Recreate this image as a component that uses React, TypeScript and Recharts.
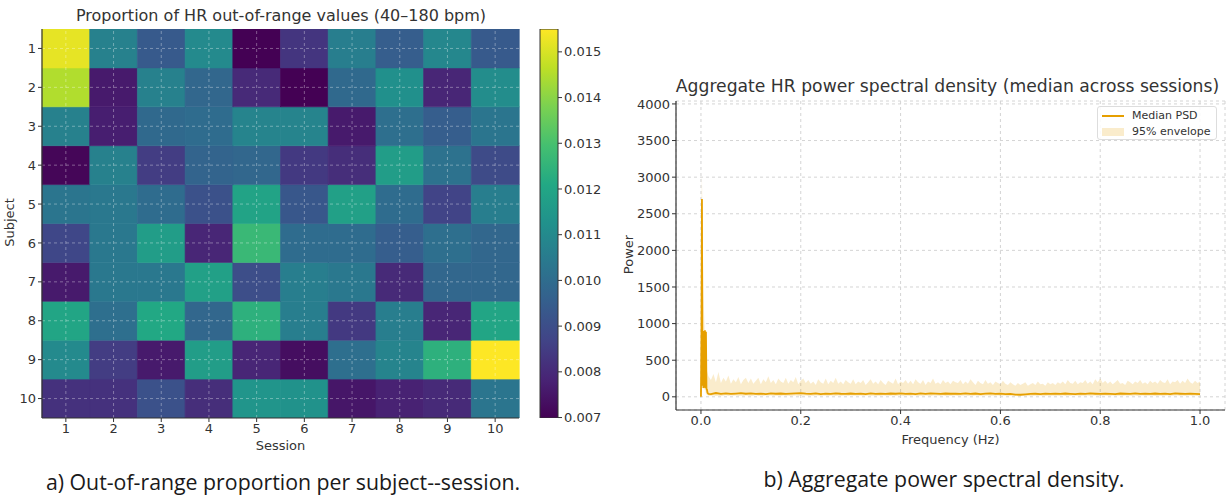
import React from "react"
import {
  Bar,
  BarChart,
  Cell,
  ComposedChart,
  Area,
  Line,
  XAxis,
  YAxis,
  CartesianGrid,
  ReferenceLine,
} from "recharts"

// heatmap: proportion of out-of-range HR, rows = subject 1..10, cols = session 1..10
const sessions = [1, 2, 3, 4, 5, 6, 7, 8, 9, 10]
const subjects = [1, 2, 3, 4, 5, 6, 7, 8, 9, 10]
const outOfRange = [
  [0.0152, 0.0107, 0.0094, 0.0110, 0.0070, 0.0083, 0.0106, 0.0095, 0.0109, 0.0094],
  [0.0145, 0.0076, 0.0107, 0.0098, 0.0080, 0.0070, 0.0099, 0.0112, 0.0079, 0.0111],
  [0.0107, 0.0077, 0.0099, 0.0100, 0.0108, 0.0108, 0.0076, 0.0101, 0.0095, 0.0103],
  [0.0071, 0.0107, 0.0085, 0.0097, 0.0098, 0.0084, 0.0081, 0.0117, 0.0102, 0.0089],
  [0.0103, 0.0104, 0.0100, 0.0091, 0.0119, 0.0093, 0.0118, 0.0100, 0.0087, 0.0106],
  [0.0088, 0.0104, 0.0117, 0.0079, 0.0127, 0.0100, 0.0100, 0.0095, 0.0101, 0.0098],
  [0.0076, 0.0104, 0.0104, 0.0118, 0.0090, 0.0106, 0.0104, 0.0080, 0.0098, 0.0098],
  [0.0120, 0.0101, 0.0121, 0.0098, 0.0124, 0.0106, 0.0084, 0.0106, 0.0079, 0.0120],
  [0.0110, 0.0085, 0.0076, 0.0117, 0.0079, 0.0073, 0.0101, 0.0108, 0.0124, 0.0155],
  [0.0082, 0.0082, 0.0091, 0.0081, 0.0114, 0.0113, 0.0075, 0.0078, 0.0080, 0.0103],
]
const cbTicks = [0.007, 0.008, 0.009, 0.01, 0.011, 0.012, 0.013, 0.014, 0.015]
const cbMin = 0.00699
const cbMax = 0.0155

// PSD median (Hz, power)
const medFreq = [
  0, 0.001, 0.002, 0.003, 0.004, 0.005, 0.006, 0.007, 0.008, 0.009, 0.01, 0.011, 0.012, 0.013, 0.014, 0.015,
  0.02, 0.03, 0.04, 0.05, 0.06, 0.07, 0.08, 0.09, 0.1,
  0.11, 0.12, 0.13, 0.14, 0.15, 0.16, 0.17, 0.18, 0.19, 0.2,
  0.21, 0.22, 0.23, 0.24, 0.25, 0.26, 0.27, 0.28, 0.29, 0.3,
  0.31, 0.32, 0.33, 0.34, 0.35, 0.36, 0.37, 0.38, 0.39, 0.4,
  0.41, 0.42, 0.43, 0.44, 0.45, 0.46, 0.47, 0.48, 0.49, 0.5,
  0.51, 0.52, 0.53, 0.54, 0.55, 0.56, 0.57, 0.58, 0.59, 0.6,
  0.61, 0.62, 0.63, 0.64, 0.65, 0.66, 0.67, 0.68, 0.69, 0.7,
  0.71, 0.72, 0.73, 0.74, 0.75, 0.76, 0.77, 0.78, 0.79, 0.8,
  0.81, 0.82, 0.83, 0.84, 0.85, 0.86, 0.87, 0.88, 0.89, 0.9,
  0.91, 0.92, 0.93, 0.94, 0.95, 0.96, 0.97, 0.98, 0.99, 1.0,
]
const medianPsd = [
  0, 850, 2700, 150, 880, 120, 900, 130, 910, 120, 890, 110, 100, 60, 45, 40,
  38, 52, 41, 47, 39, 44, 50, 42, 46,
  40, 44, 37, 48, 42, 45, 39, 43, 47, 50,
  44, 41, 46, 38, 43, 40, 47, 42, 39, 45,
  41, 44, 38, 46, 40, 43, 39, 45, 42, 47,
  40, 44, 38, 46, 41, 48, 43, 39, 45, 42,
  44, 39, 47, 41, 45, 38, 43, 46, 40, 44,
  37, 41, 30, 28, 33, 39, 42, 38, 44, 40,
  43, 39, 45, 41, 38, 44, 40, 46, 42, 39,
  44, 41, 38, 45, 42, 40, 46, 39, 43, 41,
  45, 40, 43, 38, 46, 42, 39, 44, 41, 37,
]

// PSD 95% envelope (Hz, low, high)
const envFreq = [
  0, 0.001, 0.002, 0.003, 0.004, 0.005, 0.006, 0.007, 0.008, 0.009, 0.01,
  0.015, 0.02, 0.025, 0.03, 0.035, 0.04, 0.045, 0.05, 0.055, 0.06, 0.065, 0.07, 0.075, 0.08, 0.085, 0.09, 0.095, 0.1, 0.105, 0.11,
  0.115, 0.12, 0.125, 0.13, 0.135, 0.14, 0.145, 0.15, 0.155, 0.16, 0.165, 0.17, 0.175, 0.18, 0.185, 0.19, 0.195, 0.2, 0.205, 0.21,
  0.215, 0.22, 0.225, 0.23, 0.235, 0.24, 0.245, 0.25, 0.255, 0.26, 0.265, 0.27, 0.275, 0.28, 0.285, 0.29, 0.295, 0.3, 0.305, 0.31,
  0.315, 0.32, 0.325, 0.33, 0.335, 0.34, 0.345, 0.35, 0.355, 0.36, 0.365, 0.37, 0.375, 0.38, 0.385, 0.39, 0.395, 0.4, 0.405, 0.41,
  0.415, 0.42, 0.425, 0.43, 0.435, 0.44, 0.445, 0.45, 0.455, 0.46, 0.465, 0.47, 0.475, 0.48, 0.485, 0.49, 0.495, 0.5, 0.505, 0.51,
  0.515, 0.52, 0.525, 0.53, 0.535, 0.54, 0.545, 0.55, 0.555, 0.56, 0.565, 0.57, 0.575, 0.58, 0.585, 0.59, 0.595, 0.6, 0.605, 0.61,
  0.615, 0.62, 0.625, 0.63, 0.635, 0.64, 0.645, 0.65, 0.655, 0.66, 0.665, 0.67, 0.675, 0.68, 0.685, 0.69, 0.695, 0.7, 0.705, 0.71,
  0.715, 0.72, 0.725, 0.73, 0.735, 0.74, 0.745, 0.75, 0.755, 0.76, 0.765, 0.77, 0.775, 0.78, 0.785, 0.79, 0.795, 0.8, 0.805, 0.81,
  0.815, 0.82, 0.825, 0.83, 0.835, 0.84, 0.845, 0.85, 0.855, 0.86, 0.865, 0.87, 0.875, 0.88, 0.885, 0.89, 0.895, 0.9, 0.905, 0.91,
  0.915, 0.92, 0.925, 0.93, 0.935, 0.94, 0.945, 0.95, 0.955, 0.96, 0.965, 0.97, 0.975, 0.98, 0.985, 0.99, 0.995, 1.0,
]
const envHigh = [
  0, 2500, 3050, 2400, 1900, 1500, 1200, 1000, 800, 600, 400,
  280, 230, 310, 200, 340, 190, 260, 210, 290, 180, 240, 200, 270, 170, 230, 260, 190, 250, 180, 220,
  260, 170, 240, 200, 280, 190, 230, 170, 250, 210, 190, 260, 180, 230, 200, 270, 170, 220, 250, 190,
  230, 180, 210, 160, 240, 200, 180, 250, 170, 220, 190, 260, 180, 210, 170, 230, 200, 180, 240, 170,
  210, 190, 230, 160, 200, 240, 180, 210, 170, 230, 190, 160, 220, 200, 180, 250, 170, 210, 190, 230,
  180, 220, 170, 240, 200, 180, 230, 160, 210, 190, 250, 180, 200, 170, 230, 190, 210, 170, 220, 200,
  190, 230, 170, 210, 180, 240, 200, 160, 220, 190, 170, 230, 180, 200, 160, 210, 190, 170, 220, 180,
  160, 200, 170, 150, 190, 160, 180, 200, 150, 170, 190, 160, 210, 170, 180, 150, 200, 170, 190, 160,
  200, 180, 210, 170, 230, 190, 180, 220, 170, 200, 190, 230, 180, 210, 170, 240, 200, 250, 190, 220,
  180, 210, 170, 200, 230, 180, 190, 160, 220, 200, 170, 210, 190, 230, 180, 200, 170, 220, 190, 210,
  180, 230, 200, 190, 240, 170, 210, 200, 230, 180, 220, 190, 250, 200, 180, 220, 190, 210,
]
const envLow = [
  0, 120, 200, 110, 130, 100, 120, 90, 110, 80, 40,
  14, 10, 18, 12, 16, 9, 15, 20, 11, 17, 13, 19, 10, 15, 12, 18, 14, 9, 16, 20,
  12, 15, 10, 17, 13, 19, 11, 14, 16, 10, 18, 12, 15, 9, 14, 17, 11, 16, 13, 19,
  10, 15, 12, 18, 14, 11, 16, 13, 9, 17, 15, 12, 19, 10, 14, 16, 11, 18, 13, 15,
  13, 17, 10, 14, 19, 12, 15, 9, 16, 11, 18, 13, 15, 10, 17, 12, 14, 19, 11, 16,
  15, 11, 18, 13, 10, 16, 12, 19, 14, 9, 17, 13, 15, 11, 18, 10, 16, 12, 14, 17,
  11, 16, 13, 19, 10, 15, 12, 17, 14, 9, 16, 13, 18, 11, 15, 12, 19, 10, 14, 16,
  9, 12, 8, 11, 7, 10, 13, 9, 12, 8, 11, 14, 10, 13, 9, 12, 15, 11, 13, 10,
  14, 10, 17, 12, 15, 11, 18, 13, 16, 10, 15, 12, 19, 11, 14, 17, 12, 16, 13, 18,
  15, 12, 18, 11, 14, 16, 10, 17, 13, 15, 12, 19, 10, 14, 18, 11, 16, 13, 15, 12,
  12, 16, 10, 14, 18, 11, 15, 13, 17, 12, 16, 10, 14, 19, 12, 15, 11, 17,
]
const powerTicks = [0, 500, 1000, 1500, 2000, 2500, 3000, 3500, 4000]
const freqTicks = [0, 0.2, 0.4, 0.6, 0.8, 1.0]

const viridisStops = [
  "#440154", "#482475", "#414487", "#355f8d", "#2a788e", "#21918c",
  "#22a884", "#44bf70", "#7ad151", "#bddf26", "#fde725",
]

const hexToRgb = (h: string) => [1, 3, 5].map((i) => parseInt(h.slice(i, i + 2), 16))

const viridis = (v: number) => {
  const t = Math.min(1, Math.max(0, (v - cbMin) / (cbMax - cbMin))) * 10
  const i = Math.min(9, Math.floor(t))
  const f = t - i
  const a = hexToRgb(viridisStops[i])
  const b = hexToRgb(viridisStops[i + 1])
  const c = a.map((x, k) => Math.round(x + (b[k] - x) * f))
  return `rgb(${c[0]},${c[1]},${c[2]})`
}

// one column per session, ten stacked unit cells (subject 10 at the bottom)
const heatRows = sessions.map((s) => {
  const row: Record<string, number> = { session: s }
  subjects.forEach((subj) => (row[`s${subj}`] = 1))
  return row
})

const medRows = medFreq.map((f, i) => ({ f, median: medianPsd[i] }))
const envRows = envFreq.map((f, i) => ({ f, band: [envLow[i], envHigh[i]] }))

const textColor = "#333333"
const font = "DejaVu Sans, sans-serif"
const tickStyle = { fontSize: 13, fill: textColor, fontFamily: font }
const ORANGE = "#E69F00"

function Heatmap() {
  return (
    <BarChart
      width={530}
      height={460}
      data={heatRows}
      margin={{ top: 29, right: 11, bottom: 10, left: 0 }}
      barCategoryGap={0}
      barGap={0}
    >
      <XAxis
        dataKey="session"
        tick={tickStyle}
        tickSize={4}
        tickLine={{ stroke: textColor }}
        axisLine={{ stroke: textColor, strokeWidth: 1.2 }}
        height={32}
        label={{ value: "Session", position: "insideBottom", offset: 0, fontSize: 13, fill: textColor, fontFamily: font }}
      />
      <YAxis
        type="number"
        domain={[0, 10]}
        ticks={[0.5, 1.5, 2.5, 3.5, 4.5, 5.5, 6.5, 7.5, 8.5, 9.5]}
        tickFormatter={(v) => String(10 - Math.floor(v))}
        tick={tickStyle}
        tickSize={4}
        tickLine={{ stroke: textColor }}
        axisLine={{ stroke: textColor, strokeWidth: 1.2 }}
        width={42}
        allowDataOverflow
      />
      {[...subjects].reverse().map((subj) => (
        <Bar key={subj} dataKey={`s${subj}`} stackId="cells" isAnimationActive={false}>
          {sessions.map((s, j) => {
            const c = viridis(outOfRange[subj - 1][j])
            return <Cell key={s} fill={c} stroke={c} strokeWidth={0.6} />
          })}
        </Bar>
      ))}
      {sessions.map((s) => (
        <ReferenceLine key={`vx${s}`} x={s} stroke="#ffffff" strokeOpacity={0.35} strokeDasharray="3 3" />
      ))}
      {subjects.map((subj) => (
        <ReferenceLine key={`hy${subj}`} y={subj - 0.5} stroke="#ffffff" strokeOpacity={0.35} strokeDasharray="3 3" />
      ))}
    </BarChart>
  )
}

function Colorbar() {
  return (
    <BarChart
      width={90}
      height={460}
      data={[{ name: "cb", range: [cbMin, cbMax] }]}
      margin={{ top: 29, right: 0, bottom: 42, left: 10 }}
      barCategoryGap={0}
    >
      <defs>
        <linearGradient id="viridisGrad" x1="0" y1="1" x2="0" y2="0">
          {viridisStops.map((c, i) => (
            <stop key={c} offset={`${i * 10}%`} stopColor={c} />
          ))}
        </linearGradient>
      </defs>
      <XAxis dataKey="name" hide />
      <YAxis
        orientation="right"
        type="number"
        domain={[cbMin, cbMax]}
        ticks={cbTicks}
        tickFormatter={(v) => v.toFixed(3)}
        tick={tickStyle}
        tickSize={4}
        tickLine={{ stroke: textColor }}
        axisLine={false}
        width={62}
        allowDataOverflow
      />
      <Bar dataKey="range" fill="url(#viridisGrad)" stroke={textColor} strokeWidth={1} isAnimationActive={false} />
    </BarChart>
  )
}

function PsdChart() {
  return (
    <ComposedChart width={608} height={460} margin={{ top: 101, right: 3, bottom: 16, left: 0 }}>
      <CartesianGrid strokeDasharray="3 3" stroke="#d4d4d4" />
      <XAxis
        dataKey="f"
        type="number"
        domain={[-0.05, 1.05]}
        ticks={freqTicks}
        tickFormatter={(v) => v.toFixed(1)}
        tick={tickStyle}
        tickSize={4}
        tickLine={{ stroke: textColor }}
        axisLine={{ stroke: textColor, strokeWidth: 1.2 }}
        height={34}
        allowDataOverflow
        label={{ value: "Frequency (Hz)", position: "insideBottom", offset: 0, fontSize: 13, fill: textColor, fontFamily: font }}
      />
      <YAxis
        type="number"
        domain={[-180, 4040]}
        ticks={powerTicks}
        tick={tickStyle}
        tickSize={4}
        tickLine={{ stroke: textColor }}
        axisLine={{ stroke: textColor, strokeWidth: 1.2 }}
        width={56}
        allowDataOverflow
      />
      <Area
        data={envRows}
        dataKey="band"
        type="linear"
        stroke="none"
        fill={ORANGE}
        fillOpacity={0.2}
        isAnimationActive={false}
      />
      <Line
        data={medRows}
        dataKey="median"
        type="linear"
        stroke={ORANGE}
        strokeWidth={1.8}
        dot={false}
        isAnimationActive={false}
      />
    </ComposedChart>
  )
}

const abs = (left: number, top: number): React.CSSProperties => ({ position: "absolute", left, top })

export default function App() {
  return (
    <div style={{ position: "absolute", left: 0, top: 0, width: 1228, height: 497, background: "#fff", fontFamily: font, color: textColor }}>
      <div style={{ ...abs(0, 6), width: 562, textAlign: "center", fontSize: 16 }}>
        Proportion of HR out-of-range values (40–180 bpm)
      </div>
      <div style={{ ...abs(0, 0) }}>
        <Heatmap />
      </div>
      <div style={{ ...abs(530, 0) }}>
        <Colorbar />
      </div>
      <div style={{ ...abs(-21, 215), fontSize: 13, transform: "rotate(-90deg)", width: 60, textAlign: "center" }}>
        Subject
      </div>

      <div style={{ ...abs(650, 76), width: 595, textAlign: "center", fontSize: 17.2 }}>
        Aggregate HR power spectral density (median across sessions)
      </div>
      <div style={{ ...abs(620, 0) }}>
        <PsdChart />
      </div>
      <div style={{ ...abs(598, 247), fontSize: 13, transform: "rotate(-90deg)", width: 60, textAlign: "center" }}>
        Power
      </div>
      <div
        style={{
          ...abs(1097, 106),
          width: 120,
          height: 34,
          border: "1px solid #dddddd",
          borderRadius: 3,
          background: "rgba(255,255,255,0.85)",
          fontSize: 11,
          lineHeight: "16px",
          padding: "1px 0 0 4px",
          boxSizing: "border-box",
        }}
      >
        <div style={{ display: "flex", alignItems: "center" }}>
          <span style={{ display: "inline-block", width: 22, height: 2, background: ORANGE, marginRight: 8 }} />
          Median PSD
        </div>
        <div style={{ display: "flex", alignItems: "center" }}>
          <span style={{ display: "inline-block", width: 22, height: 8, background: ORANGE, opacity: 0.2, marginRight: 8 }} />
          95% envelope
        </div>
      </div>

      <div style={{ ...abs(0, 467), width: 566, textAlign: "center", fontSize: 21.3, fontFamily: "Open Sans, sans-serif", color: "#1a1a1a" }}>
        a) Out-of-range proportion per subject--session.
      </div>
      <div style={{ ...abs(660, 464), width: 568, textAlign: "center", fontSize: 21.3, fontFamily: "Open Sans, sans-serif", color: "#1a1a1a" }}>
        b) Aggregate power spectral density.
      </div>
    </div>
  )
}
